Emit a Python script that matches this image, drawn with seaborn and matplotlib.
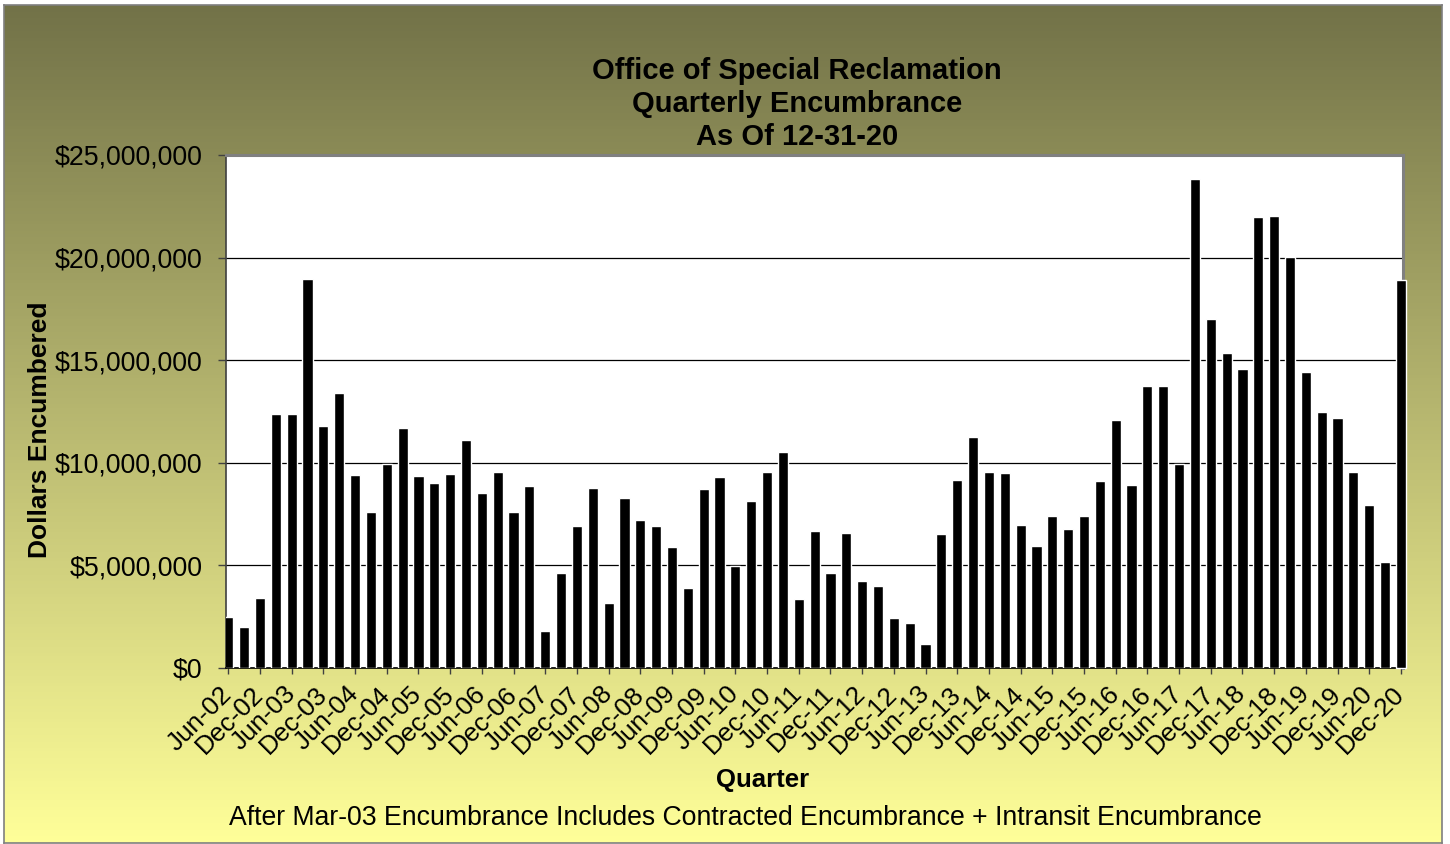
import numpy as np
import pandas as pd
import matplotlib
matplotlib.use('Agg')
import matplotlib.pyplot as plt
import seaborn as sns
from matplotlib.colors import LinearSegmentedColormap
from matplotlib.ticker import FuncFormatter, MultipleLocator

# ========== DATA ==========
quarters = [
    'Jun-02', 'Sep-02', 'Dec-02',
    'Mar-03', 'Jun-03', 'Sep-03', 'Dec-03',
    'Mar-04', 'Jun-04', 'Sep-04', 'Dec-04',
    'Mar-05', 'Jun-05', 'Sep-05', 'Dec-05',
    'Mar-06', 'Jun-06', 'Sep-06', 'Dec-06',
    'Mar-07', 'Jun-07', 'Sep-07', 'Dec-07',
    'Mar-08', 'Jun-08', 'Sep-08', 'Dec-08',
    'Mar-09', 'Jun-09', 'Sep-09', 'Dec-09',
    'Mar-10', 'Jun-10', 'Sep-10', 'Dec-10',
    'Mar-11', 'Jun-11', 'Sep-11', 'Dec-11',
    'Mar-12', 'Jun-12', 'Sep-12', 'Dec-12',
    'Mar-13', 'Jun-13', 'Sep-13', 'Dec-13',
    'Mar-14', 'Jun-14', 'Sep-14', 'Dec-14',
    'Mar-15', 'Jun-15', 'Sep-15', 'Dec-15',
    'Mar-16', 'Jun-16', 'Sep-16', 'Dec-16',
    'Mar-17', 'Jun-17', 'Sep-17', 'Dec-17',
    'Mar-18', 'Jun-18', 'Sep-18', 'Dec-18',
    'Mar-19', 'Jun-19', 'Sep-19', 'Dec-19',
    'Mar-20', 'Jun-20', 'Sep-20', 'Dec-20',
]

# encumbrance in millions of dollars
encumbrance_mil = [
    2.48, 1.98, 3.43,
    12.38, 12.38, 18.98, 11.80,
    13.40, 9.41, 7.59, 9.93,
    11.72, 9.36, 9.03, 9.44,
    11.11, 8.55, 9.54, 7.59,
    8.86, 1.82, 4.62, 6.93,
    8.75, 3.17, 8.28, 7.21,
    6.93, 5.91, 3.88, 8.70,
    9.31, 4.98, 8.14, 9.57,
    10.51, 3.38, 6.67, 4.62,
    6.60, 4.24, 3.99, 2.44,
    2.21, 1.16, 6.55, 9.16,
    11.27, 9.54, 9.49, 6.98,
    5.94, 7.43, 6.77, 7.41,
    9.13, 12.08, 8.91, 13.73,
    13.73, 9.95, 23.83, 17.00,
    15.35, 14.57, 21.98, 22.03,
    20.02, 14.44, 12.49, 12.18,
    9.57, 7.92, 5.17, 18.89,
]

tick_labels = quarters[::2]

title_lines = ['Office of Special Reclamation', 'Quarterly Encumbrance', 'As Of 12-31-20']
footnote = 'After Mar-03 Encumbrance Includes Contracted Encumbrance + Intransit Encumbrance'

df = pd.DataFrame({'Quarter': quarters, 'Encumbrance': np.array(encumbrance_mil) * 1e6})

# ========== STYLE ==========
sns.set_style('white')
plt.rcParams['font.family'] = ['Liberation Sans', 'DejaVu Sans']
plt.rcParams['text.color'] = 'black'
plt.rcParams['xtick.labelcolor'] = 'black'
plt.rcParams['ytick.labelcolor'] = 'black'

W, H = 1450, 844
fig = plt.figure(figsize=(W / 100, H / 100), dpi=100)
fig.patch.set_facecolor('white')

# gradient chart-area background
bx0, by0, bx1, by1 = 4 / W, 1 / H, 1442 / W, 1 - 5 / H
bg = fig.add_axes([bx0, by0, bx1 - bx0, by1 - by0], zorder=-10)
grad_cmap = LinearSegmentedColormap.from_list('olive', ['#FFFF99', '#727248'])
bg.imshow(np.linspace(0, 1, 256).reshape(-1, 1)[::-1], aspect='auto', cmap=grad_cmap,
          extent=[0, 1, 0, 1], origin='upper')
bg.set_xticks([])
bg.set_yticks([])
for s in bg.spines.values():
    s.set_color('#7F7F7F')
    s.set_linewidth(1.2)

# plot area
left, right, top, bottom = 226, 1403, 155, 668
ax = fig.add_axes([left / W, 1 - bottom / H, (right - left) / W, (bottom - top) / H], zorder=1)
ax.set_facecolor('white')

sns.barplot(data=df, x='Quarter', y='Encumbrance', color='black', width=0.64,
            saturation=1, ax=ax, zorder=3)
ax.patches[-1].set_clip_on(False)

ax.set_xlim(-0.145, 74.13)
ax.set_ylim(0, 25e6)
ax.yaxis.set_major_locator(MultipleLocator(5e6))
ax.yaxis.set_major_formatter(FuncFormatter(lambda v, p: f'${v:,.0f}'))
ax.grid(axis='y', color='black', linewidth=0.9, zorder=0)
ax.set_axisbelow(True)

ax.set_xticks(range(0, len(quarters), 2))
ax.set_xticklabels(tick_labels, rotation=45, ha='right', va='center',
                   rotation_mode='anchor', fontsize=18.8)
ax.tick_params(axis='x', direction='out', length=4, width=1, color='#404040', pad=12, bottom=True)
ax.tick_params(axis='y', direction='out', length=6, width=1, color='#404040', pad=11,
               labelsize=19.3, left=True)
ax.set_xlabel('')
ax.set_ylabel('')

ax.spines['top'].set_color('#808080')
ax.spines['top'].set_linewidth(2.2)
ax.spines['right'].set_color('#808080')
ax.spines['right'].set_linewidth(2.2)
ax.spines['left'].set_color('#404040')
ax.spines['left'].set_linewidth(1.2)
ax.spines['bottom'].set_color('black')
ax.spines['bottom'].set_linewidth(1.2)

# texts
fig.text(797 / W, 1 - 104 / H, '\n'.join(title_lines), ha='center', va='center',
         fontsize=21, fontweight='bold', linespacing=1.22)
fig.text(40 / W, 1 - 430 / H, 'Dollars Encumbered', rotation=90, ha='center', va='center',
         fontsize=19, fontweight='bold')
fig.text(763 / W, 1 - 780 / H, 'Quarter', ha='center', va='center',
         fontsize=18.5, fontweight='bold')
fig.text(745 / W, 1 - 818 / H, footnote, ha='center', va='center', fontsize=19.2)

fig.savefig('out.png', dpi=100)
